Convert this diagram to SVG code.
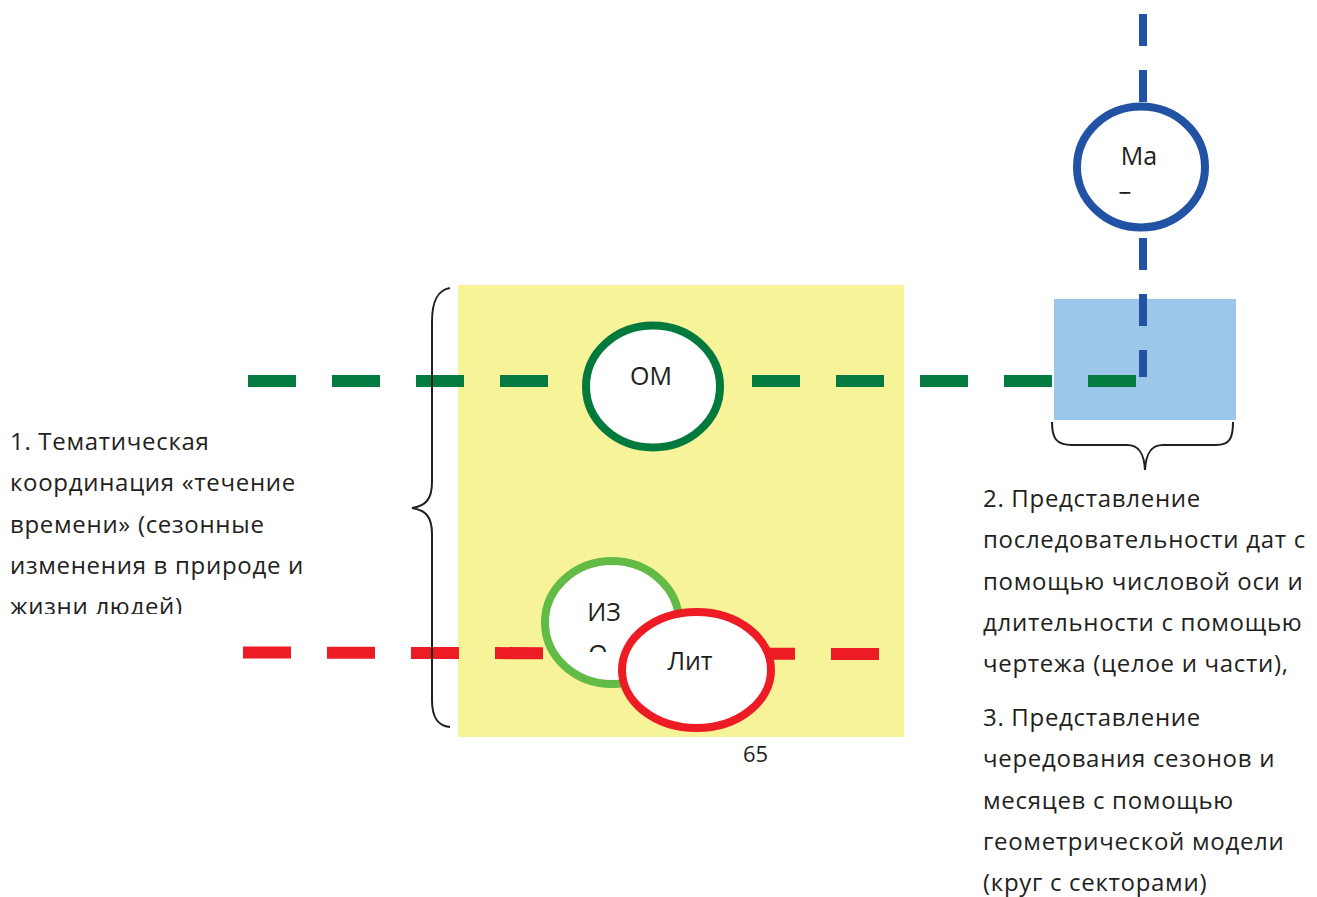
<svg xmlns="http://www.w3.org/2000/svg" width="1317" height="897" viewBox="0 0 1317 897">
  <style>
    .txt { font-family: "Open Sans", "Noto Sans", "DejaVu Sans", sans-serif; font-size: 24px; letter-spacing: 0.7px; fill: #231F20; }
    .num { font-family: "Open Sans", "Noto Sans", "DejaVu Sans", sans-serif; font-size: 22px; fill: #231F20; }
    .ntxt { font-family: "Open Sans", "Noto Sans", "DejaVu Sans", sans-serif; font-size: 25px; fill: #231F20; text-anchor: middle; }
    .node { fill: #FFFFFF; stroke-width: 8; }
    .brace { fill: none; stroke: #231F20; stroke-width: 2; }
    .dash { fill: none; stroke-width: 12; stroke-dasharray: 48 36; }
  </style>
  <defs>
    <clipPath id="clipLeft"><rect x="0" y="415" width="330" height="199"/></clipPath>
    <clipPath id="clipIzo"><rect x="560" y="590" width="100" height="62"/></clipPath>
    <clipPath id="clipMa"><rect x="1090" y="130" width="100" height="64"/></clipPath>
  </defs>

  <rect id="region-yellow" x="458" y="285" width="446" height="452" fill="#F6F399"/>
  <rect id="region-blue" x="1054" y="299" width="182" height="121" fill="#9DC7EA"/>

  <g id="connectors">
    <line class="dash" x1="248" y1="381" x2="1136" y2="381" stroke="#047B40"/>
    <line class="dash" x1="243" y1="652.5" x2="879" y2="654" stroke="#ED1C24"/>
    <line fill="none" stroke="#2252A3" stroke-width="8" stroke-dasharray="32 24" x1="1143" y1="14" x2="1143" y2="377"/>
  </g>

  <g id="brace-left">
    <path class="brace" d="M450,288 C438,290 432,300 432,322 L432,482 C432,500 425,506 412,508 C425,510 432,516 432,534 L432,700 C432,718 438,726 450,727"/>
  </g>
  <g id="brace-bottom">
    <path class="brace" d="M1052,422 C1052,438 1056,445 1072,445 L1127,445 C1138,445 1144,452 1145,470 C1146,452 1152,445 1163,445 L1216,445 C1230,445 1233,438 1233,422"/>
  </g>

  <g id="node-om">
    <ellipse class="node" cx="653" cy="386.5" rx="67" ry="61" stroke="#037A3D"/>
    <text class="ntxt" x="651" y="385">ОМ</text>
  </g>

  <g id="node-ma">
    <ellipse class="node" cx="1141" cy="167" rx="64" ry="60.5" stroke="#2252A3" stroke-width="7"/>
    <g clip-path="url(#clipMa)">
      <text class="ntxt" x="1139" y="165">Ма</text>
      <text class="ntxt" x="1125" y="206">т</text>
    </g>
  </g>

  <g id="node-izo">
    <ellipse class="node" cx="612" cy="622.5" rx="67" ry="61.5" stroke="#62BB46"/>
    <g clip-path="url(#clipIzo)">
      <text class="ntxt" x="604" y="621">ИЗ</text>
      <text class="ntxt" x="598" y="663">О</text>
    </g>
  </g>

  <g id="node-lit">
    <ellipse class="node" cx="696.5" cy="670" rx="74.5" ry="58" stroke="#ED1C24"/>
    <text class="ntxt" x="690" y="670">Лит</text>
  </g>

  <g id="text-left" clip-path="url(#clipLeft)">
    <text class="txt" x="10" y="450">1. Тематическая</text>
    <text class="txt" x="10" y="491">координация «течение</text>
    <text class="txt" x="10" y="533">времени» (сезонные</text>
    <text class="txt" x="10" y="574">изменения в природе и</text>
    <text class="txt" x="10" y="615">жизни людей)</text>
  </g>

  <g id="text-page">
    <text class="num" x="743" y="762">65</text>
  </g>

  <g id="text-right">
    <text class="txt" x="983" y="507">2. Представление</text>
    <text class="txt" x="983" y="548">последовательности дат с</text>
    <text class="txt" x="983" y="590">помощью числовой оси и</text>
    <text class="txt" x="983" y="631">длительности с помощью</text>
    <text class="txt" x="983" y="672">чертежа (целое и части),</text>
    <text class="txt" x="983" y="726">3. Представление</text>
    <text class="txt" x="983" y="767">чередования сезонов и</text>
    <text class="txt" x="983" y="809">месяцев с помощью</text>
    <text class="txt" x="983" y="850">геометрической модели</text>
    <text class="txt" x="983" y="891">(круг с секторами)</text>
  </g>
</svg>
